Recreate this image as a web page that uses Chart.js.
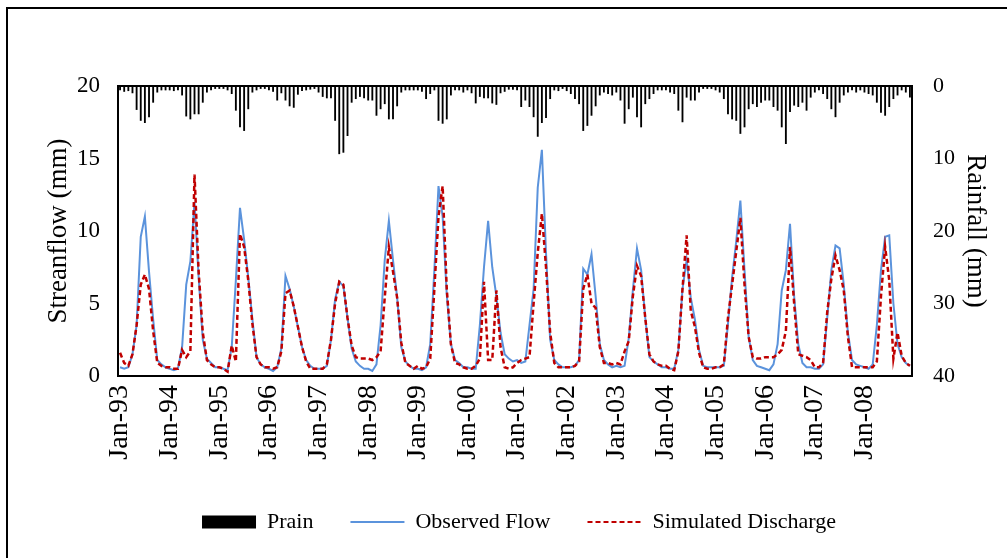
<!DOCTYPE html>
<html>
<head>
<meta charset="utf-8">
<script src="https://cdn.jsdelivr.net/npm/chart.js@4.4.1/dist/chart.umd.min.js"></script>
<style>
  html, body { margin: 0; padding: 0; background: #fff; }
  #wrap { position: relative; width: 1007px; height: 558px; overflow: hidden; background: #fff; }
  #frame { position: absolute; left: 6px; top: 7px; width: 1030px; height: 600px;
           border-left: 2px solid #000; border-top: 2px solid #000; box-sizing: border-box; }
  #c { position: absolute; left: 0; top: 0; }
</style>
</head>
<body>
<div id="wrap">
  <div id="frame"></div>
  <canvas id="c" width="1007" height="558"></canvas>
</div>
<script>
// Monthly record, Jan 1993 - Dec 2008
const years = ['93','94','95','96','97','98','99','00','01','02','03','04','05','06','07','08'];
const monthNames = ['Jan','Feb','Mar','Apr','May','Jun','Jul','Aug','Sep','Oct','Nov','Dec'];

// Rainfall (mm), right axis, hanging from the top
const prain = [
  0.6, 0.8, 0.7, 1.0, 3.3, 4.8, 5.1, 4.3, 2.3, 0.9, 0.6, 0.6,
  0.6, 0.7, 0.6, 1.3, 4.2, 4.6, 3.9, 3.9, 2.3, 0.9, 0.6, 0.4,
  0.4, 0.4, 0.6, 1.1, 3.4, 5.7, 6.2, 3.2, 0.9, 0.6, 0.4, 0.4,
  0.6, 0.8, 2.0, 1.0, 2.0, 2.8, 3.0, 1.2, 0.7, 0.6, 0.5, 0.4,
  0.9, 1.5, 1.7, 1.7, 4.8, 9.4, 9.2, 6.9, 2.3, 1.8, 1.5, 1.7,
  2.0, 2.0, 4.1, 3.2, 2.5, 4.6, 4.6, 2.8, 0.9, 0.6, 0.6, 0.6,
  0.6, 0.8, 1.8, 1.1, 0.6, 4.8, 5.2, 4.6, 1.3, 0.6, 0.6, 0.9,
  0.6, 1.0, 2.4, 1.5, 1.7, 1.7, 2.4, 2.6, 1.0, 0.8, 0.5, 0.5,
  0.6, 2.9, 2.0, 2.9, 4.3, 7.0, 5.1, 4.4, 1.8, 0.6, 0.7, 0.4,
  0.7, 1.1, 1.8, 2.5, 6.2, 5.5, 4.1, 2.8, 1.3, 0.9, 1.1, 1.3,
  0.9, 2.0, 5.2, 3.2, 1.6, 4.3, 5.7, 2.5, 1.8, 1.1, 0.6, 0.6,
  0.6, 0.9, 1.1, 3.4, 5.0, 1.6, 2.0, 2.0, 0.9, 0.4, 0.4, 0.4,
  0.6, 0.9, 1.8, 3.9, 4.6, 4.8, 6.6, 5.7, 3.2, 2.5, 2.9, 2.3,
  2.0, 2.0, 2.9, 3.4, 5.7, 8.0, 3.6, 2.7, 2.9, 2.3, 3.4, 1.6,
  0.9, 0.6, 1.1, 1.8, 3.2, 4.3, 2.3, 1.3, 0.9, 0.6, 0.9, 0.6,
  0.9, 1.1, 1.3, 2.3, 3.7, 4.1, 2.9, 1.8, 1.3, 0.6, 0.9, 1.6
];

// Observed streamflow (mm)
const observedFlow = [
  0.6, 0.5, 0.6, 1.5, 3.5, 9.6, 11.0, 7.2, 3.9, 1.1, 0.8, 0.6,
  0.5, 0.4, 0.5, 2.0, 6.3, 7.9, 12.0, 6.8, 2.5, 1.2, 0.9, 0.6,
  0.6, 0.5, 0.4, 2.0, 6.6, 11.6, 9.4, 6.8, 3.9, 1.3, 0.8, 0.6,
  0.5, 0.35, 0.6, 1.9, 6.9, 6.0, 4.8, 3.4, 2.0, 1.1, 0.7, 0.5,
  0.5, 0.5, 0.7, 2.5, 5.3, 6.5, 6.2, 4.0, 1.9, 1.0, 0.7, 0.5,
  0.5, 0.35, 0.8, 3.5, 8.0, 10.7, 8.0, 5.4, 2.0, 1.0, 0.7, 0.5,
  0.5, 0.4, 0.6, 2.2, 7.3, 13.1, 11.0, 5.6, 2.2, 1.1, 0.9, 0.6,
  0.6, 0.5, 0.5, 3.5, 7.5, 10.7, 7.5, 5.5, 3.0, 1.5, 1.2, 1.0,
  1.1, 0.9, 1.0, 3.5, 6.0, 13.0, 15.6, 8.5, 2.5, 1.1, 0.8, 0.6,
  0.6, 0.6, 0.7, 1.1, 7.4, 7.0, 8.4, 5.5, 2.2, 1.1, 0.8, 0.6,
  0.7, 0.6, 0.7, 2.6, 5.9, 8.8, 7.3, 4.0, 1.3, 1.0, 0.8, 0.6,
  0.6, 0.5, 0.5, 1.8, 6.0, 8.0, 5.4, 3.9, 1.8, 0.7, 0.6, 0.6,
  0.6, 0.6, 0.7, 3.6, 6.8, 9.3, 12.1, 7.3, 2.7, 1.1, 0.7, 0.6,
  0.5, 0.4, 0.8, 2.2, 5.9, 7.3, 10.5, 5.5, 2.2, 0.9, 0.6, 0.6,
  0.5, 0.5, 0.8, 4.0, 7.3, 9.0, 8.8, 6.3, 3.0, 1.1, 0.8, 0.7,
  0.6, 0.5, 0.8, 3.5, 7.3, 9.6, 9.7, 5.0, 2.2, 1.3, 0.9, 0.7
];

// Simulated discharge (mm)
const simulatedDischarge = [
  1.6, 0.9, 0.7, 1.5, 3.5, 6.3, 7.0, 6.0, 3.1, 0.9, 0.7, 0.6,
  0.6, 0.5, 0.5, 1.8, 1.3, 1.7, 13.9, 7.2, 3.0, 1.1, 0.8, 0.6,
  0.6, 0.5, 0.3, 2.1, 1.0, 9.8, 8.9, 6.6, 3.6, 1.3, 0.8, 0.6,
  0.6, 0.5, 0.6, 1.7, 5.7, 5.9, 4.8, 3.4, 2.0, 1.0, 0.5, 0.5,
  0.5, 0.5, 0.8, 2.5, 5.0, 6.5, 6.3, 4.0, 2.1, 1.3, 1.2, 1.2,
  1.2, 1.1, 1.3, 1.7, 5.4, 8.9, 7.2, 5.4, 2.3, 0.9, 0.7, 0.5,
  0.7, 0.5, 0.6, 1.2, 6.0, 11.0, 13.1, 6.0, 2.2, 0.9, 0.8, 0.6,
  0.5, 0.5, 0.7, 1.2, 6.5, 1.1, 1.1, 5.9, 2.0, 0.6, 0.5, 0.6,
  0.9, 1.1, 1.2, 1.3, 5.0, 8.5, 11.2, 7.5, 3.0, 0.9, 0.6, 0.6,
  0.6, 0.6, 0.7, 1.0, 6.0, 7.0, 5.0, 4.7, 2.0, 0.9, 0.9, 0.8,
  0.9, 0.8, 1.7, 2.4, 5.5, 7.6, 6.9, 4.0, 1.5, 1.0, 0.8, 0.7,
  0.7, 0.5, 0.4, 1.7, 6.0, 9.7, 4.5, 3.4, 1.6, 0.6, 0.5, 0.5,
  0.6, 0.6, 0.8, 4.0, 6.3, 8.6, 10.9, 6.3, 2.7, 1.3, 1.2, 1.2,
  1.3, 1.3, 1.3, 1.5, 1.8, 3.1, 8.9, 5.0, 1.5, 1.4, 1.3, 1.1,
  0.6, 0.6, 0.9, 4.4, 6.7, 8.3, 7.3, 5.9, 2.7, 0.6, 0.6, 0.6,
  0.6, 0.6, 0.6, 1.0, 5.5, 8.9, 6.6, 1.2, 3.0, 1.4, 0.9, 0.7
];

// Category labels "Mon-YY"; only the January ones are shown on the axis
const labels = [];
years.forEach(y => monthNames.forEach(m => labels.push(m + '-' + y)));

const serif = "'Liberation Serif', 'Times New Roman', serif";

// Black frame around the plotting area
const plotFrame = {
  id: 'plotFrame',
  afterDatasetsDraw(chart) {
    const { ctx, chartArea: a } = chart;
    ctx.save();
    ctx.strokeStyle = '#000';
    ctx.lineWidth = 2;
    ctx.strokeRect(a.left, a.top, a.right - a.left, a.bottom - a.top);
    ctx.restore();
  }
};

new Chart(document.getElementById('c'), {
  data: {
    labels: labels,
    datasets: [
      {
        type: 'bar',
        label: 'Prain',
        data: prain,
        yAxisID: 'yRain',
        backgroundColor: '#000',
        borderWidth: 0,
        barPercentage: 0.45,
        categoryPercentage: 1.0,
        order: 3
      },
      {
        type: 'line',
        label: 'Observed Flow',
        data: observedFlow,
        yAxisID: 'yFlow',
        borderColor: '#5b93dc',
        borderWidth: 2,
        pointRadius: 0,
        tension: 0,
        fill: false,
        order: 2
      },
      {
        type: 'line',
        label: 'Simulated Discharge',
        data: simulatedDischarge,
        yAxisID: 'yFlow',
        borderColor: '#c00000',
        borderWidth: 2.5,
        borderDash: [5, 3],
        pointRadius: 0,
        tension: 0,
        fill: false,
        order: 1
      }
    ]
  },
  options: {
    responsive: false,
    animation: false,
    devicePixelRatio: 1,
    layout: { padding: { left: 31, right: 0, top: 86, bottom: 15 } },
    scales: {
      x: {
        type: 'category',
        offset: true,
        grid: { display: false, drawTicks: false },
        border: { display: false },
        ticks: {
          autoSkip: false,
          minRotation: 90,
          maxRotation: 90,
          padding: 9,
          color: '#000',
          font: { family: serif, size: 28 },
          callback(value) {
            const lab = this.getLabelForValue(value);
            return lab.startsWith('Jan') ? lab : '';
          }
        },
        afterFit(scale) { scale.height = 98; }
      },
      yFlow: {
        position: 'left',
        min: 0,
        max: 20,
        grid: { display: false, drawTicks: false },
        border: { display: false },
        ticks: { stepSize: 5, padding: 18, color: '#000', font: { family: serif, size: 23 } },
        title: {
          display: true,
          text: 'Streanflow (mm)',
          color: '#000',
          font: { family: serif, size: 27 },
          padding: { top: 12, bottom: 0 }
        },
        afterFit(scale) { scale.width = 87; }
      },
      yRain: {
        position: 'right',
        min: 0,
        max: 40,
        reverse: true,
        grid: { display: false, drawTicks: false },
        border: { display: false },
        ticks: { stepSize: 10, padding: 21, color: '#000', font: { family: serif, size: 22 } },
        title: {
          display: true,
          text: 'Rainfall (mm)',
          color: '#000',
          font: { family: serif, size: 27 },
          padding: { top: 16, bottom: 0 }
        },
        afterFit(scale) { scale.width = 95; }
      }
    },
    plugins: {
      tooltip: { enabled: false },
      legend: {
        display: true,
        position: 'bottom',
        labels: {
          usePointStyle: true,
          pointStyleWidth: 54,
          boxHeight: 13,
          padding: 37,
          color: '#000',
          font: { family: serif, size: 22 },
          sort: (a, b) => a.datasetIndex - b.datasetIndex,
          generateLabels(chart) {
            const items = Chart.defaults.plugins.legend.labels.generateLabels(chart);
            items.forEach(it => {
              const ds = chart.data.datasets[it.datasetIndex];
              if (ds.type === 'bar') {
                it.pointStyle = 'rect';
              } else {
                it.pointStyle = 'line';
                it.strokeStyle = ds.borderColor;
                it.lineWidth = 2;
                it.lineDash = ds.borderDash || [];
              }
            });
            return items;
          }
        }
      }
    }
  },
  plugins: [plotFrame]
});
</script>
</body>
</html>
